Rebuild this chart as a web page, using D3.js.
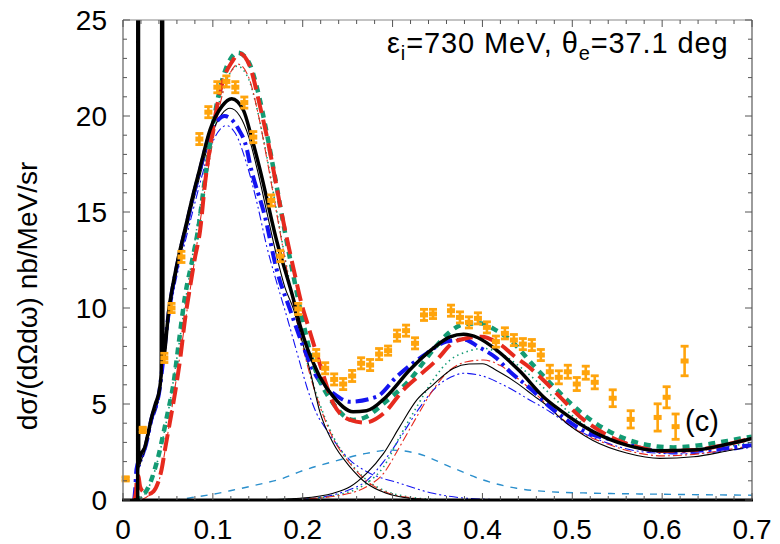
<!DOCTYPE html>
<html>
<head>
<meta charset="utf-8">
<script src="https://cdn.jsdelivr.net/npm/d3@7"></script>
<style>
  html, body { margin: 0; padding: 0; background: #fff; }
  svg { display: block; }
  text { font-family: "Liberation Sans", Arial, Helvetica, sans-serif; fill: #000; }
</style>
</head>
<body>
<svg id="chart" width="780" height="544"></svg>
<script>
// Energy transfer ω (GeV) and cross sections (nb/MeV/sr)
const xTicks = [0, 0.1, 0.2, 0.3, 0.4, 0.5, 0.6, 0.7];
const yTicks = [0, 5, 10, 15, 20, 25];

// Measured points: [ω, value, error]
const expData = [
  [0.003,1.1,0.12],[0.022,3.65,0.15],[0.046,7.4,0.25],[0.054,10.0,0.25],[0.065,12.66,0.3],
  [0.085,18.8,0.3],[0.095,20.2,0.3],[0.105,21.5,0.3],[0.115,21.8,0.3],[0.125,21.5,0.3],
  [0.135,20.7,0.3],[0.145,18.9,0.3],[0.165,15.6,0.3],[0.175,12.7,0.3],[0.195,9.95,0.3],
  [0.215,7.55,0.3],[0.225,6.86,0.3],[0.235,6.28,0.3],[0.245,6.04,0.3],[0.255,6.46,0.3],
  [0.265,7.12,0.3],[0.275,7.03,0.3],[0.285,7.6,0.3],[0.295,7.78,0.25],[0.305,8.56,0.3],
  [0.315,8.82,0.3],[0.325,8.16,0.3],[0.335,9.64,0.3],[0.345,9.69,0.25],[0.365,9.86,0.3],
  [0.375,9.51,0.3],[0.385,9.25,0.3],[0.395,9.46,0.3],[0.405,8.99,0.3],[0.415,8.25,0.3],
  [0.425,8.68,0.3],[0.435,8.33,0.3],[0.445,8.12,0.3],[0.455,8.07,0.3],[0.465,7.55,0.3],
  [0.475,6.68,0.35],[0.485,6.39,0.35],[0.495,6.68,0.35],[0.505,6.04,0.35],[0.515,6.63,0.35],
  [0.525,6.13,0.35],[0.545,5.3,0.45],[0.565,4.2,0.46],[0.595,4.3,0.72],[0.605,5.35,0.56],
  [0.615,3.82,0.67],[0.625,7.24,0.78]
];

// Total cross sections
const blackTotal = [
  [0.012,0],[0.0163,0],[0.0165,27],[0.0172,27],[0.0175,1.9],[0.019,2.26],[0.0245,2.78],[0.028,3.5],
  [0.032,4.34],[0.036,5.0],[0.0405,5.73],[0.0425,6.6],[0.0432,27],[0.044,27],[0.0445,7.3],
  [0.051,9.9],[0.061,12.5],[0.07,14.3],[0.078,15.9],[0.0857,17.3],[0.0968,19.27],[0.11,20.5],
  [0.121,20.9],[0.134,20.3],[0.143,18.9],[0.152,17.3],[0.171,13.5],[0.19,10.4],[0.197,9.1],
  [0.2045,7.98],[0.212,7.12],[0.219,6.42],[0.234,5.38],[0.256,4.6],[0.271,4.65],[0.293,5.38],
  [0.319,6.77],[0.345,7.9],[0.364,8.5],[0.379,8.63],[0.395,8.45],[0.4158,7.81],[0.4418,6.7],
  [0.4677,5.38],[0.486,4.69],[0.523,3.56],[0.5605,2.86],[0.5976,2.57],[0.635,2.6],[0.672,2.9],[0.7,3.21]
];
const redTotal = [
  [0.0125,0],[0.0145,0.4],[0.0155,1.2],[0.017,1.25],[0.019,0.7],[0.022,0.45],[0.028,0.3],[0.034,0.45],
  [0.039,0.9],[0.043,1.6],[0.047,2.7],[0.052,4.0],[0.058,5.6],[0.0635,7.3],[0.069,9.4],[0.075,11.2],
  [0.08,12.6],[0.0857,14.0],[0.0913,16.5],[0.1,19.3],[0.1117,21.9],[0.121,22.8],[0.13,23.26],
  [0.1413,22.57],[0.1525,20.5],[0.1617,18.58],[0.167,17.3],[0.175,15.3],[0.19,12.0],[0.2,10.0],
  [0.2045,9.3],[0.219,7.1],[0.234,5.03],[0.2526,4.17],[0.269,4.03],[0.29,4.51],[0.312,5.73],
  [0.3305,6.51],[0.349,7.29],[0.3675,8.2],[0.38,8.4],[0.399,8.5],[0.4195,8.1],[0.438,7.4],
  [0.449,7.03],[0.4677,6.25],[0.486,5.38],[0.5086,4.34],[0.542,3.3],[0.575,2.74],[0.5976,2.55],
  [0.635,2.6],[0.672,2.9],[0.7,3.21]
];
const greenTotal = [
  [0.0125,0],[0.017,0.05],[0.021,0.17],[0.025,0.4],[0.03,0.85],[0.034,1.39],[0.04,2.4],[0.045,3.47],
  [0.05,4.6],[0.056,6.0],[0.0616,8.0],[0.069,10.6],[0.078,12.7],[0.084,14.2],[0.09,16.3],[0.1,19.5],
  [0.11,21.8],[0.12,23.0],[0.128,23.3],[0.14,22.8],[0.15,21.3],[0.16,19.1],[0.17,16.6],[0.18,14.0],
  [0.19,11.6],[0.197,10.0],[0.2118,7.12],[0.234,5.03],[0.2563,4.17],[0.271,4.34],[0.29,5.03],
  [0.319,6.25],[0.345,7.81],[0.362,8.68],[0.379,9.15],[0.397,9.2],[0.416,8.82],[0.431,8.33],
  [0.457,7.0],[0.481,5.82],[0.5086,4.6],[0.538,3.65],[0.575,2.95],[0.6125,2.74],[0.65,2.9],
  [0.687,3.2],[0.7,3.3]
];
const blueTotal = [
  [0.0125,0],[0.0135,0.5],[0.015,1.6],[0.019,2.2],[0.0245,2.72],[0.032,4.28],[0.0405,5.68],
  [0.0445,7.2],[0.051,9.8],[0.061,12.4],[0.07,14.2],[0.078,15.8],[0.0857,17.2],[0.0968,19.1],
  [0.106,19.8],[0.113,20.0],[0.128,19.36],[0.1377,18.3],[0.1413,17.5],
  [0.158,14.76],[0.171,12.0],[0.186,9.9],[0.2007,7.98],[0.2155,6.42],[0.234,5.56],[0.2526,5.12],
  [0.2823,5.38],[0.3046,6.42],[0.338,7.64],[0.36,8.25],[0.38,8.35],[0.3955,7.98],[0.4158,7.38],
  [0.4307,6.68],[0.4529,5.82],[0.475,4.85],[0.49,4.3],[0.5122,3.61],[0.553,3.04],[0.5828,2.64],
  [0.6087,2.52],[0.65,2.6],[0.7,2.86]
];

// Quasi-elastic contributions
const blackQE = [
  [0.013,0],[0.0135,0.3],[0.015,1.0],[0.02,2.0],[0.0245,2.6],[0.032,4.1],[0.0405,5.5],[0.0445,7.0],
  [0.051,9.5],[0.061,12.1],[0.07,13.9],[0.078,15.5],[0.0857,16.9],[0.0968,18.8],[0.11,20.1],
  [0.119,20.4],[0.13,20.0],[0.14,18.9],[0.15,17.1],[0.16,15.0],
  [0.17,12.9],[0.18,11.1],[0.19,9.9],[0.197,8.68],[0.208,6.77],[0.219,4.6],[0.234,2.95],
  [0.2526,1.73],[0.271,0.87],[0.293,0.35],[0.319,0.09],[0.35,0]
];
const redQE = [
  [0.02,0],[0.03,0.3],[0.04,1.0],[0.05,3.5],[0.06,6.5],[0.07,9.5],[0.08,12.6],[0.09,15.8],
  [0.1,18.7],[0.11,21.0],[0.12,22.3],[0.128,22.7],[0.14,22.0],[0.15,20.2],[0.16,17.8],[0.17,15.2],
  [0.18,12.6],[0.19,10.1],[0.2,8.0],[0.21,6.2],[0.219,4.9],[0.234,3.2],[0.2526,1.9],[0.271,1.0],
  [0.293,0.4],[0.319,0.12],[0.35,0]
];
const greenQE = [
  [0.015,0],[0.02,0.1],[0.03,0.8],[0.04,2.3],[0.05,4.5],[0.06,7.4],[0.07,10.5],[0.08,13.5],
  [0.09,16.5],[0.1,19.2],[0.11,21.2],[0.12,22.3],[0.127,22.6],[0.14,21.9],[0.15,20.2],[0.16,17.9],
  [0.17,15.3],[0.18,12.7],[0.19,10.2],[0.2,8.1],[0.21,6.3],[0.219,5.0],[0.234,3.3],[0.2526,1.95],
  [0.271,1.05],[0.293,0.45],[0.319,0.15],[0.35,0.02]
];
const blueQE = [
  [0.013,0],[0.0135,0.3],[0.015,1.0],[0.02,1.9],[0.0245,2.5],[0.032,4.0],[0.0405,5.4],[0.0445,6.9],
  [0.051,9.3],[0.061,11.9],[0.07,13.6],[0.078,15.1],[0.0857,16.5],[0.0968,18.3],[0.108,19.3],
  [0.115,19.5],[0.125,19.1],[0.1377,17.5],[0.15,15.3],
  [0.16,13.2],[0.17,11.5],[0.182,9.6],[0.197,7.12],[0.2045,5.9],[0.2155,4.5],[0.2267,3.65],
  [0.2526,2.08],[0.271,1.48],[0.308,0.87],[0.345,0.35],[0.3825,0.09],[0.42,0.02],[0.45,0]
];

// Delta-region contributions
const blackDelta = [
  [0.15,0],[0.197,0.09],[0.234,0.35],[0.2526,0.69],[0.271,1.39],[0.29,2.43],[0.308,3.82],
  [0.327,5.21],[0.345,6.0],[0.3675,6.85],[0.385,7.08],[0.4,7.1],[0.4158,6.75],[0.438,6.1],
  [0.4566,5.45],[0.475,4.8],[0.486,4.3],[0.523,3.1],[0.5605,2.45],[0.5976,2.17],[0.635,2.25],
  [0.672,2.55],[0.7,2.8]
];
const redDelta = [
  [0.15,0],[0.2,0.05],[0.2526,0.35],[0.271,0.69],[0.29,1.39],[0.308,2.78],[0.327,4.34],
  [0.345,5.73],[0.364,6.77],[0.3825,7.2],[0.401,7.29],[0.42,7.0],[0.44,6.3],[0.46,5.5],
  [0.48,4.6],[0.5,3.8],[0.54,2.9],[0.575,2.43],[0.6,2.3],[0.64,2.4],[0.67,2.6],[0.7,2.85]
];
const greenDelta = [
  [0.15,0],[0.2,0.05],[0.25,0.4],[0.271,0.87],[0.29,1.73],[0.308,3.3],[0.327,4.86],[0.345,6.25],
  [0.364,7.29],[0.3825,7.72],[0.401,7.9],[0.416,7.72],[0.4418,6.94],[0.46,6.2],[0.48,5.3],
  [0.5,4.4],[0.54,3.2],[0.58,2.65],[0.61,2.55],[0.65,2.65],[0.7,3.0]
];
const blueDelta = [
  [0.15,0],[0.2,0.05],[0.25,0.5],[0.271,1.0],[0.29,2.0],[0.308,3.2],[0.327,4.6],[0.349,5.9],
  [0.365,6.4],[0.379,6.6],[0.397,6.5],[0.4232,5.99],[0.453,5.2],[0.475,4.6],[0.5,3.8],
  [0.54,2.95],[0.58,2.5],[0.62,2.4],[0.66,2.5],[0.7,2.75]
];

// Two-body current contribution
const mec = [
  [0.04,0],[0.06,0.02],[0.08,0.15],[0.1,0.3],[0.123,0.52],[0.15,0.8],[0.178,1.13],[0.197,1.48],
  [0.234,2.0],[0.271,2.43],[0.297,2.6],[0.327,2.43],[0.364,1.73],[0.401,1.04],[0.438,0.61],
  [0.475,0.43],[0.52,0.36],[0.6,0.3],[0.7,0.25]
];

const svg = d3.select("#chart");
const x = d3.scaleLinear().domain([0, 0.7]).range([123, 752]);
const y = d3.scaleLinear().domain([0, 25]).range([500, 20]);

svg.append("defs").append("clipPath").attr("id", "plotClip")
  .append("rect").attr("x", x(0)).attr("y", y(25))
  .attr("width", x(0.7) - x(0)).attr("height", y(0) - y(25));

const line = d3.line().x(d => x(d[0])).y(d => y(d[1])).curve(d3.curveMonotoneX);
const plot = svg.append("g").attr("clip-path", "url(#plotClip)");

const RED = "#e62a1e", GREEN = "#139b74", BLUE = "#1414f0", SKY = "#2b8fcc", ORANGE = "#ffa40c";

const curves = [
  { d: mec,        c: SKY,    w: 1.4, dash: "7,7" },
  { d: blueQE,     c: BLUE,   w: 1.1, dash: "9,3,2,3,2,3" },
  { d: blueDelta,  c: BLUE,   w: 1.1, dash: "9,3,2,3,2,3" },
  { d: greenQE,    c: GREEN,  w: 1.6, dash: "1.5,3.5" },
  { d: greenDelta, c: GREEN,  w: 1.6, dash: "1.5,3.5" },
  { d: redQE,      c: RED,    w: 1.1, dash: "9,3,2,3" },
  { d: redDelta,   c: RED,    w: 1.1, dash: "9,3,2,3" },
  { d: blackQE,    c: "#000", w: 1.1, dash: null },
  { d: blackDelta, c: "#000", w: 1.1, dash: null },
  { d: blueTotal,  c: BLUE,   w: 4,   dash: "13,5,3,5" },
  { d: greenTotal, c: GREEN,  w: 4.5, dash: "7,6" },
  { d: redTotal,   c: RED,    w: 4,   dash: "17,7" },
  { d: blackTotal, c: "#000", w: 3.5, dash: null }
];

curves.forEach(s => {
  plot.append("path").datum(s.d)
    .attr("d", line)
    .attr("fill", "none")
    .attr("stroke", s.c)
    .attr("stroke-width", s.w)
    .attr("stroke-dasharray", s.dash)
    .attr("stroke-linejoin", "round");
});

// Measured points with error bars
const pts = svg.append("g").attr("fill", ORANGE).attr("stroke", ORANGE);
expData.forEach(([wv, v, e]) => {
  const cx = x(wv), y0 = y(v - e), y1 = y(v + e);
  pts.append("line").attr("x1", cx).attr("x2", cx).attr("y1", y0).attr("y2", y1).attr("stroke-width", 2.6);
  pts.append("rect").attr("x", cx - 4).attr("y", y1 - 1.2).attr("width", 8).attr("height", 2.8).attr("stroke", "none");
  pts.append("rect").attr("x", cx - 4).attr("y", y0 - 1.6).attr("width", 8).attr("height", 2.8).attr("stroke", "none");
  pts.append("rect").attr("x", cx - 4).attr("y", y(v) - 2.5).attr("width", 8).attr("height", 5).attr("stroke", "none");
});

// Frame
const fr = svg.append("g");
fr.append("line").attr("x1", x(0)).attr("x2", x(0.7)).attr("y1", y(25)).attr("y2", y(25)).attr("stroke", "#888").attr("stroke-width", 1.2);
fr.append("line").attr("x1", x(0.7)).attr("x2", x(0.7)).attr("y1", y(25)).attr("y2", y(0)).attr("stroke", "#666").attr("stroke-width", 1.3);
fr.append("line").attr("x1", x(0)).attr("x2", x(0)).attr("y1", y(25)).attr("y2", y(0)).attr("stroke", "#888").attr("stroke-width", 1.6);

// Inward ticks: minor every 0.02 in ω and 1 in σ
const xMinor = d3.range(0, 0.7001, 0.02);
const yMinor = d3.range(0, 25.001, 1);
const isMajorX = v => Math.abs(v * 10 - Math.round(v * 10)) < 1e-6;
const isMajorY = v => v % 5 === 0;
const tk = svg.append("g").attr("stroke", "#555").attr("stroke-width", 1);
xMinor.forEach(v => {
  const L = isMajorX(v) ? 7 : 4;
  tk.append("line").attr("x1", x(v)).attr("x2", x(v)).attr("y1", y(0)).attr("y2", y(0) - L);
  tk.append("line").attr("x1", x(v)).attr("x2", x(v)).attr("y1", y(25)).attr("y2", y(25) + L);
});
yMinor.forEach(v => {
  const L = isMajorY(v) ? 7 : 4;
  tk.append("line").attr("x1", x(0)).attr("x2", x(0) + L).attr("y1", y(v)).attr("y2", y(v));
  tk.append("line").attr("x1", x(0.7)).attr("x2", x(0.7) - L).attr("y1", y(v)).attr("y2", y(v));
});

// Bottom axis line
fr.append("line").attr("x1", x(0) - 1).attr("x2", x(0.7) + 1).attr("y1", y(0)).attr("y2", y(0)).attr("stroke", "#000").attr("stroke-width", 2.8);

// Tick labels
const fmtX = d => d === 0 ? "0" : d3.format(".1f")(d);
svg.append("g").selectAll("text").data(xTicks).join("text")
  .attr("x", d => x(d)).attr("y", 539)
  .attr("text-anchor", "middle").attr("font-size", 28).text(fmtX);
svg.append("g").selectAll("text").data(yTicks).join("text")
  .attr("x", 107).attr("y", d => y(d) + 10)
  .attr("text-anchor", "end").attr("font-size", 28).text(d => d);

// Axis title
svg.append("text")
  .attr("transform", "translate(37,296) rotate(-90)")
  .attr("text-anchor", "middle").attr("font-size", 28)
  .text("dσ/(dΩdω) nb/MeV/sr");

// Kinematics label
const t = svg.append("text").attr("x", 387).attr("y", 53).attr("font-size", 29).attr("letter-spacing", 0.9);
t.append("tspan").text("ε");
t.append("tspan").attr("font-size", 20).attr("dy", 7).text("i");
t.append("tspan").attr("dy", -7).text("=730 MeV, θ");
t.append("tspan").attr("font-size", 20).attr("dy", 7).text("e");
t.append("tspan").attr("dy", -7).text("=37.1 deg");

svg.append("text").attr("x", 685).attr("y", 431).attr("font-size", 29).text("(c)");
</script>
</body>
</html>
